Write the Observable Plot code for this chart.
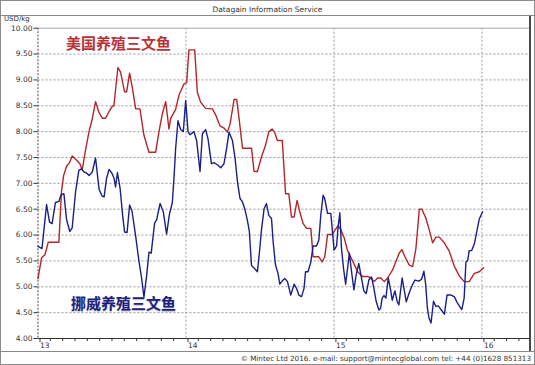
<!DOCTYPE html>
<html><head><meta charset="utf-8">
<script src="https://cdn.jsdelivr.net/npm/d3@7"></script>
<script src="https://cdn.jsdelivr.net/npm/@observablehq/plot@0.6"></script>
<style>
html,body{margin:0;padding:0;background:#fff;}
#wrap{position:relative;width:535px;height:365px;overflow:hidden;background:#fff;font-family:"DejaVu Sans",sans-serif;color:#333;}
#frame{position:absolute;left:0;top:0;width:533px;height:363px;border:1px solid #8c8c8c;pointer-events:none;}
#title{position:absolute;left:0;top:0;width:535px;height:15px;border-bottom:1px solid #888;text-align:center;font-size:7.5px;line-height:19px;}
#unit{position:absolute;left:4px;top:15px;font-size:7px;line-height:9px;}
#chart{position:absolute;left:0;top:16px;}
#rightline{position:absolute;left:529px;top:16px;width:2px;height:335px;background:#4a4a4a;}
#footer{position:absolute;left:0;top:351px;width:535px;height:13px;border-top:1px solid #888;text-align:right;font-size:7.2px;line-height:13px;}
#footer span{padding-right:4px;}
.lab{position:absolute;font-family:"Noto Sans CJK SC",sans-serif;font-weight:bold;font-size:15px;line-height:15px;white-space:nowrap;}
#labUS{left:66px;top:35px;color:#b83238;}
#labNO{left:71px;top:295px;color:#1c1f7c;text-shadow:0 1px 1px rgba(120,120,160,0.5);}
</style>
</head><body>
<div id="wrap">
  <div id="title">Datagain Information Service</div>
  <div id="unit">USD/kg</div>
  <div id="chart"></div>
  <div id="rightline"></div>
  <div id="footer"><span>© Mintec Ltd 2016. e-mail: support@mintecglobal.com tel: +44 (0)1628 851313</span></div>
  <div class="lab" id="labUS">美国养殖三文鱼</div>
  <div class="lab" id="labNO">挪威养殖三文鱼</div>
  <div id="frame"></div>
</div>
<script>
// Series names
const seriesNames = ["美国养殖三文鱼", "挪威养殖三文鱼"];

// US farmed salmon (red): time in years ("13" = 2013), price USD/kg
const redT = [13.000,13.024,13.047,13.069,13.141,13.149,13.159,13.173,13.193,13.213,13.231,13.260,13.283,13.299,13.321,13.344,13.367,13.389,13.411,13.434,13.457,13.479,13.502,13.513,13.540,13.558,13.585,13.599,13.619,13.637,13.660,13.689,13.716,13.750,13.795,13.817,13.840,13.863,13.885,13.896,13.930,13.953,13.986,14.005,14.020,14.059,14.077,14.099,14.133,14.179,14.201,14.230,14.257,14.280,14.298,14.325,14.343,14.359,14.382,14.443,14.460,14.483,14.510,14.537,14.560,14.582,14.600,14.618,14.651,14.673,14.695,14.713,14.731,14.751,14.769,14.792,14.815,14.844,14.859,14.898,14.920,14.938,14.957,14.988,15.006,15.028,15.047,15.069,15.092,15.126,15.160,15.193,15.227,15.250,15.272,15.295,15.317,15.340,15.363,15.397,15.419,15.441,15.459,15.480,15.509,15.532,15.554,15.577,15.595,15.622,15.644,15.667,15.689,15.712,15.746,15.779,15.813,15.847,15.880,15.914,15.949,15.982,16.012];
const redV = [5.16,5.56,5.62,5.86,5.86,6.30,6.85,7.15,7.33,7.40,7.53,7.45,7.38,7.26,7.64,7.99,8.25,8.58,8.38,8.26,8.26,8.38,8.49,8.50,9.24,9.15,8.77,8.77,9.13,8.86,8.44,8.44,7.93,7.60,7.60,7.99,8.34,8.58,8.05,8.25,8.43,8.71,8.92,8.95,9.58,9.58,8.76,8.57,8.45,8.44,8.32,8.11,8.07,7.99,8.15,8.62,8.62,8.25,7.68,7.68,7.23,7.23,7.51,7.73,8.00,8.05,7.98,7.83,7.83,6.80,6.80,6.35,6.35,6.67,6.45,6.22,6.13,6.13,5.58,5.58,5.48,5.58,6.01,6.01,6.09,6.18,6.10,5.95,5.70,5.50,5.29,5.20,5.20,5.17,5.10,5.17,5.17,5.10,5.17,5.33,5.49,5.65,5.72,5.58,5.42,5.39,5.74,6.50,6.50,6.32,6.10,5.85,5.96,5.96,5.85,5.69,5.40,5.21,5.10,5.10,5.26,5.29,5.37];

// Norwegian farmed salmon (blue)
const blueT = [13.000,13.027,13.058,13.078,13.095,13.118,13.141,13.156,13.175,13.193,13.215,13.231,13.254,13.276,13.294,13.311,13.328,13.345,13.367,13.389,13.413,13.434,13.447,13.463,13.480,13.499,13.514,13.524,13.537,13.555,13.572,13.585,13.602,13.619,13.635,13.660,13.682,13.700,13.716,13.734,13.750,13.765,13.788,13.802,13.825,13.847,13.869,13.888,13.908,13.920,13.930,13.946,13.964,13.982,13.998,14.014,14.027,14.054,14.072,14.095,14.111,14.133,14.149,14.172,14.189,14.212,14.235,14.257,14.275,14.291,14.314,14.332,14.348,14.365,14.382,14.397,14.414,14.428,14.443,14.465,14.483,14.499,14.510,14.528,14.544,14.560,14.578,14.589,14.605,14.622,14.634,14.650,14.668,14.686,14.708,14.731,14.747,14.763,14.781,14.798,14.808,14.825,14.844,14.859,14.882,14.898,14.911,14.927,14.938,14.957,14.979,14.988,15.001,15.018,15.028,15.040,15.051,15.065,15.079,15.092,15.104,15.119,15.135,15.150,15.168,15.187,15.202,15.218,15.236,15.254,15.270,15.286,15.304,15.315,15.326,15.338,15.351,15.367,15.383,15.394,15.412,15.428,15.439,15.451,15.461,15.473,15.489,15.507,15.529,15.547,15.575,15.593,15.608,15.620,15.631,15.642,15.656,15.673,15.689,15.705,15.723,15.747,15.764,15.791,15.813,15.832,15.847,15.864,15.880,15.892,15.904,15.914,15.931,15.949,15.967,15.982,16.005];
const blueV = [5.78,5.74,6.59,6.25,6.22,6.63,6.65,6.78,6.80,6.30,6.07,6.14,6.84,7.25,7.28,7.22,7.20,7.15,7.22,7.49,6.88,6.75,6.74,7.09,7.27,7.20,7.10,6.93,7.21,6.90,6.38,6.06,6.05,6.58,6.47,5.98,5.50,5.17,4.80,5.21,5.67,5.65,6.23,6.30,6.61,6.45,6.02,6.40,6.63,7.15,7.67,8.21,8.04,8.00,8.60,8.00,7.94,8.00,7.83,7.23,7.96,8.04,7.86,7.38,7.40,7.36,7.30,7.38,7.68,7.99,7.83,7.48,7.03,6.71,6.64,6.51,6.30,6.08,5.41,5.35,5.29,5.74,6.09,6.51,6.61,6.38,6.32,5.87,5.42,5.26,5.05,5.11,5.16,5.10,4.84,5.05,4.97,4.84,4.81,4.97,5.29,5.29,5.48,5.79,5.79,5.90,6.38,6.77,6.70,6.42,6.42,6.13,5.71,5.79,6.16,6.43,5.74,5.35,5.05,5.35,5.65,5.29,4.94,5.23,5.45,5.16,4.92,4.87,5.13,5.19,4.97,4.71,4.55,4.58,4.78,4.83,4.78,5.17,4.94,4.74,4.92,4.71,4.65,4.94,5.17,4.97,4.71,4.87,5.03,5.13,5.11,5.15,5.30,5.05,4.60,4.40,4.30,4.72,4.62,4.63,4.56,4.47,4.84,4.84,4.81,4.70,4.63,4.56,4.78,5.48,5.51,5.70,5.70,5.83,6.09,6.31,6.45];

// Axis ticks
const yTicks = [4.0,4.5,5.0,5.5,6.0,6.5,7.0,7.5,8.0,8.5,9.0,9.5,10.0];
const yGridTicks = [4.5,5.0,5.5,6.0,6.5,7.0,7.5,8.0,8.5,9.0,9.5];
const yearTicks = [13,14,15,16];
const yearGridTicks = [14,15,16];
const xDomain = [13, 16.325];
const yDomain = [4, 10];

const monthTicks = d3.range(0, 41).map(i => 13 + i / 12).filter(t => t <= xDomain[1] && !yearTicks.some(y => Math.abs(y - t) < 1e-6));

const red = redT.map((t, i) => ({t, v: redV[i], s: seriesNames[0]}));
const blue = blueT.map((t, i) => ({t, v: blueV[i], s: seriesNames[1]}));

const chart = Plot.plot({
  width: 535,
  height: 335,
  marginTop: 11.7,
  marginBottom: 13,
  marginLeft: 37.5,
  marginRight: 5.5,
  x: {domain: xDomain, label: null},
  y: {domain: yDomain, label: null},
  style: {fontFamily: "DejaVu Sans, sans-serif", fontSize: "7.5px", color: "#333", background: "transparent", overflow: "visible"},
  marks: [
    Plot.gridY(yGridTicks, {stroke: "#9a9a9a", strokeOpacity: 1, strokeDasharray: "2,2"}),
    Plot.gridX(yearGridTicks, {stroke: "#9a9a9a", strokeOpacity: 1, strokeDasharray: "2,2"}),
    Plot.ruleY([yDomain[1]], {stroke: "#a8a8a8", strokeWidth: 1}),
    Plot.ruleX([xDomain[0]], {stroke: "#444", strokeWidth: 1, strokeDasharray: "2,1.5"}),
    Plot.ruleY([yDomain[0]], {stroke: "#333", strokeWidth: 1}),
    Plot.axisY(yTicks, {tickSize: 4, tickPadding: 1.5, tickFormat: d => d.toFixed(2), label: null, stroke: "#333"}),
    Plot.axisX(monthTicks, {tickSize: 3, tickFormat: () => "", label: null, stroke: "#333"}),
    Plot.axisX(yearTicks, {tickSize: 4, tickPadding: 0.5, tickFormat: d => String(d), textAnchor: "start", dx: 2, label: null, stroke: "#333"}),
    Plot.line(red, {x: "t", y: "v", stroke: "#b3262c", strokeWidth: 1.4}),
    Plot.line(blue, {x: "t", y: "v", stroke: "#1b1f86", strokeWidth: 1.4})
  ]
});
document.getElementById("chart").appendChild(chart);
</script>
</body></html>
